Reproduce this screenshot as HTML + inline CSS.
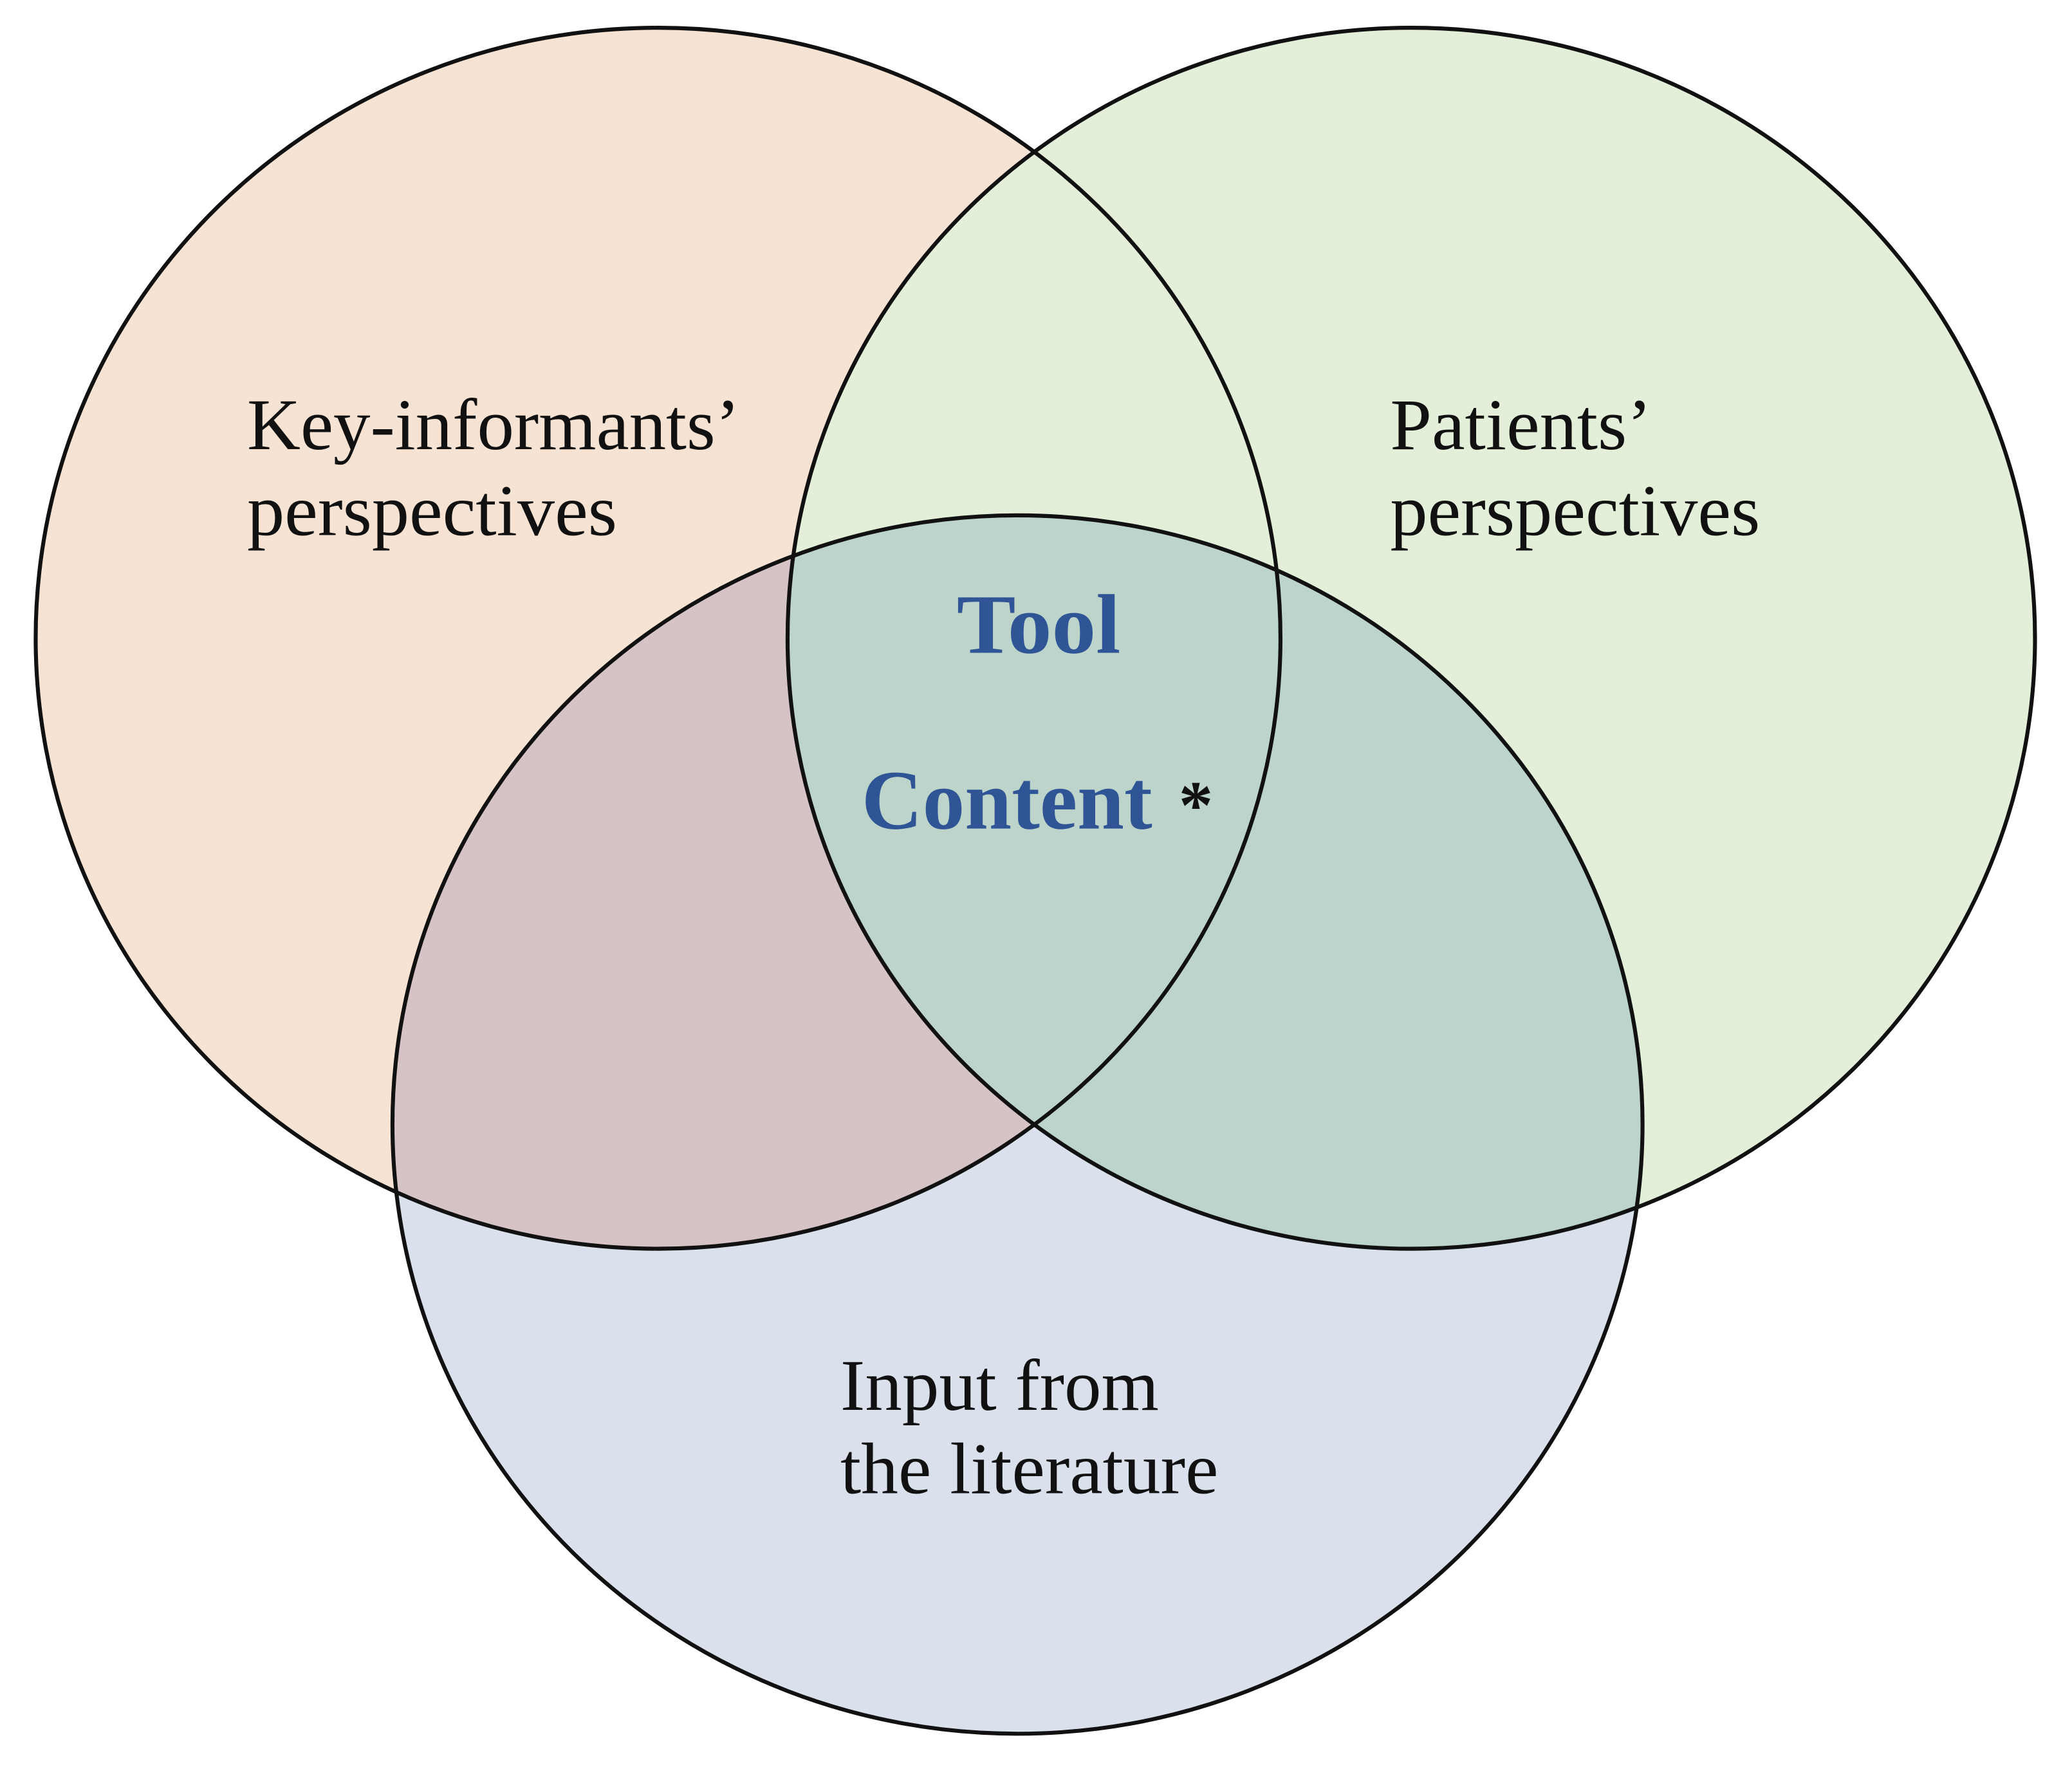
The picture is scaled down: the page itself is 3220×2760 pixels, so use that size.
<!DOCTYPE html>
<html><head><meta charset="utf-8"><style>
html,body{margin:0;padding:0;background:#fff;}
svg{display:block;}
text{font-family:"Liberation Serif",serif;}
</style></head><body>
<svg width="3220" height="2760" viewBox="0 0 1568 1344" xmlns="http://www.w3.org/2000/svg">
<defs>
<clipPath id="cb"><ellipse cx="770" cy="851" rx="473" ry="461"/></clipPath>
</defs>
<rect width="1568" height="1344" fill="#fff"/>
<ellipse cx="498" cy="483" rx="471" ry="462" fill="#f6e3d3"/>
<ellipse cx="1068" cy="483" rx="472" ry="462" fill="#e3efd9"/>
<ellipse cx="770" cy="851" rx="473" ry="461" fill="#dae1ec"/>
<g clip-path="url(#cb)"><ellipse cx="498" cy="483" rx="471" ry="462" fill="#d6c3c6"/></g>
<g clip-path="url(#cb)"><ellipse cx="1068" cy="483" rx="472" ry="462" fill="#bdd4ca"/></g>
<g fill="none" stroke="#111" stroke-width="3">
<ellipse cx="498" cy="483" rx="471" ry="462"/>
<ellipse cx="1068" cy="483" rx="472" ry="462"/>
<ellipse cx="770" cy="851" rx="473" ry="461"/>
</g>
<g font-size="55" fill="#111" lengthAdjust="spacingAndGlyphs">
<text x="187" y="340" textLength="373" lengthAdjust="spacingAndGlyphs">Key-informants’</text>
<text x="187" y="405" textLength="280" lengthAdjust="spacingAndGlyphs">perspectives</text>
<text x="1052" y="340" textLength="198" lengthAdjust="spacingAndGlyphs">Patients’</text>
<text x="1052" y="405" textLength="280" lengthAdjust="spacingAndGlyphs">perspectives</text>
<text x="636" y="1067" textLength="241" lengthAdjust="spacingAndGlyphs">Input from</text>
<text x="636" y="1130" textLength="286" lengthAdjust="spacingAndGlyphs">the literature</text>
</g>
<g font-size="64" font-weight="bold" fill="#2f5596">
<text x="724" y="494" textLength="124" lengthAdjust="spacingAndGlyphs">Tool</text>
<text x="652" y="627" textLength="220" lengthAdjust="spacingAndGlyphs">Content</text>
</g>
<text x="892" y="627" font-size="52" font-weight="bold" fill="#111">*</text>
</svg>
</body></html>
